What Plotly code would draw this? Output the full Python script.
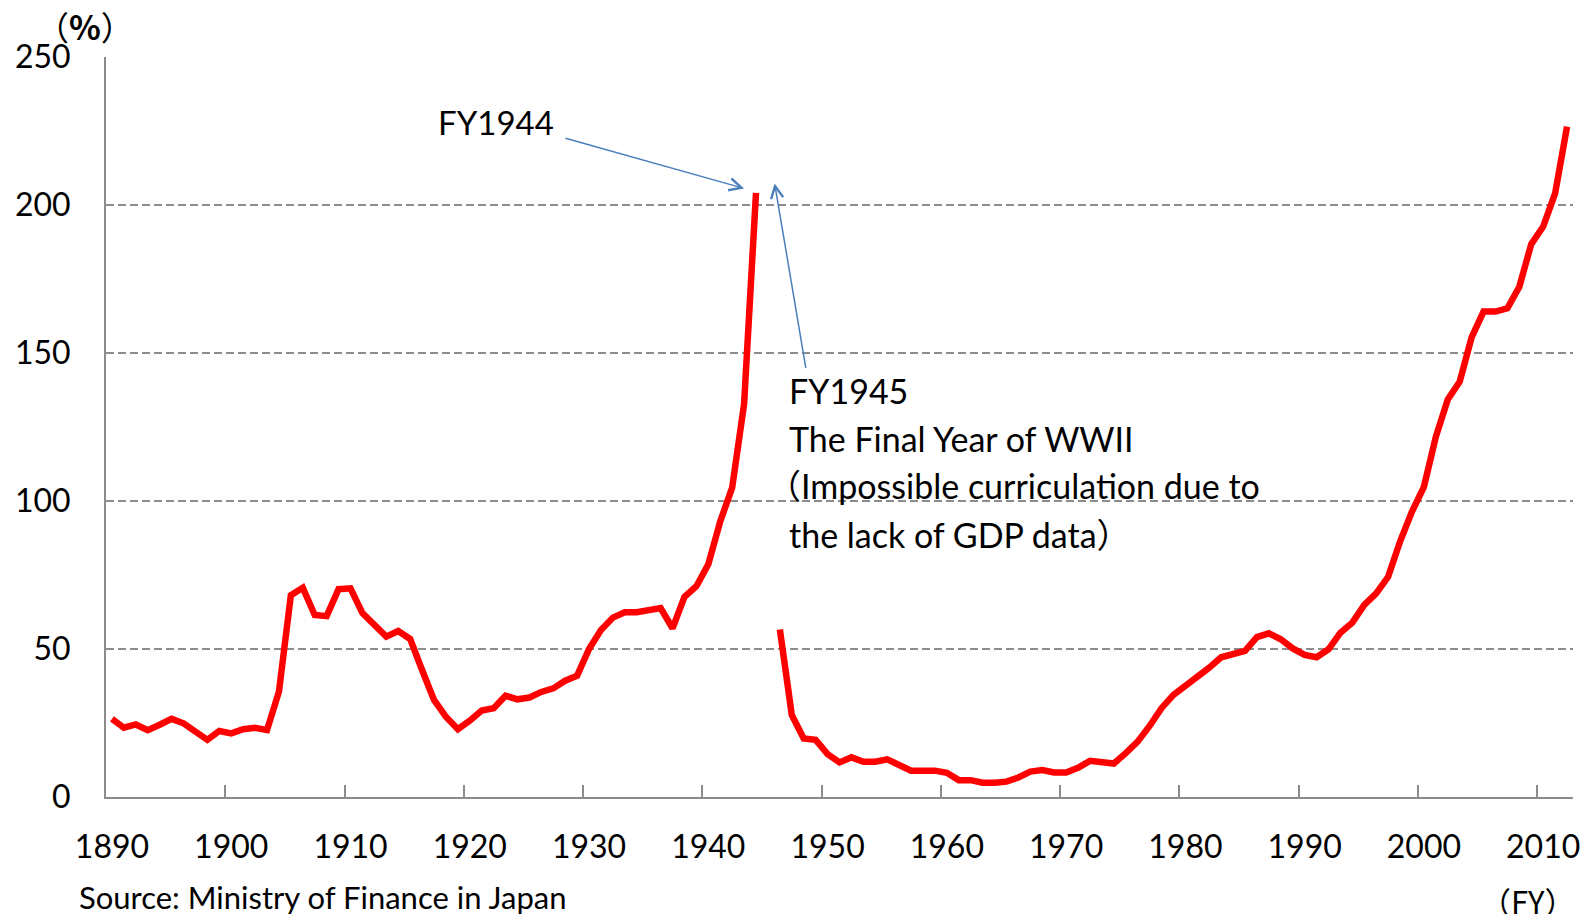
import plotly.graph_objects as go

# ---- data ----
years = list(range(1890, 2013))
debt_ratio = [
    # 1890s
    26.4, 23.4, 24.5, 22.6, 24.4, 26.4, 24.9, 22.1, 19.3, 22.3,
    # 1900s
    21.5, 22.9, 23.4, 22.6, 35.6, 68.2, 70.7, 61.5, 61.1, 70.2,
    # 1910s
    70.5, 62.1, 57.8, 54.2, 56.1, 53.4, 42.9, 32.8, 27.1, 22.9,
    # 1920s
    25.8, 29.2, 30.0, 34.2, 33.0, 33.6, 35.5, 36.7, 39.3, 41.0,
    # 1930s
    50.0, 56.4, 60.6, 62.4, 62.4, 63.2, 63.8, 57.0, 67.6, 71.2,
    # 1940s (1945 missing)
    78.6, 93.1, 104.5, 132.8, 204.1, None, 56.6, 27.7, 19.8, 19.3,
    # 1950s
    14.5, 11.7, 13.4, 11.9, 11.9, 12.7, 10.8, 8.9, 8.9, 8.9,
    # 1960s
    8.2, 5.7, 5.7, 4.8, 4.8, 5.2, 6.6, 8.6, 9.1, 8.3,
    # 1970s
    8.3, 9.9, 12.2, 11.5, 11.3, 14.8, 18.7, 24.0, 30.0, 34.5,
    # 1980s
    37.5, 40.4, 43.7, 47.2, 48.5, 49.4, 54.0, 55.3, 53.3, 50.2,
    # 1990s
    48.0, 47.2, 49.9, 55.5, 58.9, 64.9, 68.8, 74.4, 86.3, 96.4,
    # 2000s
    104.8, 121.7, 134.3, 140.3, 155.3, 164.0, 164.0, 165.1, 172.4, 186.8,
    # 2010s
    192.7, 203.9, 226.5,
]
assert len(debt_ratio) == len(years)

x_label_years = list(range(1890, 2011, 10))
y_ticks = [0, 50, 100, 150, 200, 250]

note_1944 = "FY1944"
note_1945_lines = [
    "FY1945",
    "The Final Year of WWII",
    "（Impossible curriculation due to",
    "the lack of GDP data）",
]
source_text = "Source: Ministry of Finance in Japan"

# ---- figure ----
FONT = "Lato, 'Noto Sans', 'Noto Sans CJK JP', sans-serif"
CJK = "Noto Sans CJK JP"
GRAY = "#8c8c8c"
ARROW = "#4a7ebb"

fig = go.Figure()
fig.add_trace(go.Scatter(
    x=years, y=debt_ratio, mode="lines",
    line=dict(color="#ff0000", width=6.5),
    connectgaps=False, showlegend=False, hoverinfo="x+y",
))
# invisible trace to hold the tick-mark axis
fig.add_trace(go.Scatter(x=[years[0]], y=[None], xaxis="x2", mode="lines",
                         showlegend=False, hoverinfo="skip"))

tick_bounds = [y - 0.5 for y in x_label_years[1:]]
xrange = [years[0] - 0.5, years[-1] + 0.5]

fig.update_layout(
    width=1588, height=914,
    margin=dict(l=106, r=15, t=57, b=117),
    paper_bgcolor="white", plot_bgcolor="white",
    font=dict(family=FONT, size=32, color="black"),
    xaxis=dict(
        range=xrange, tickvals=x_label_years,
        ticktext=[str(v) for v in x_label_years],
        ticks="", showgrid=False, zeroline=False,
        showline=True, linecolor=GRAY, linewidth=2,
        tickfont=dict(family=FONT, size=32, color="black"),
        ticklabelstandoff=21, automargin=False,
    ),
    xaxis2=dict(
        overlaying="x", matches="x", anchor="y", side="bottom",
        range=xrange, tickvals=tick_bounds,
        ticks="inside", ticklen=12, tickwidth=2, tickcolor=GRAY,
        showticklabels=False, showgrid=False, zeroline=False, showline=False,
    ),
    yaxis=dict(
        range=[0, 250], tickvals=y_ticks,
        ticks="", showgrid=True, gridcolor=GRAY, gridwidth=1.5,
        griddash="8px,4px", zeroline=False,
        showline=True, linecolor=GRAY, linewidth=2,
        tickfont=dict(family=FONT, size=32, color="black"),
        ticklabelstandoff=27, automargin=False,
    ),
)

annotations = []
ANN_FONT = dict(family=FONT, size=34, color="black")
# FY1944 label and arrow
annotations.append(dict(x=1922.2, y=228, xref="x", yref="y", text=note_1944,
                        showarrow=False, xanchor="center", yanchor="middle",
                        font=dict(family=FONT, size=33, color="black")))
annotations.append(dict(x=1943.0, y=205.6, xref="x", yref="y",
                        ax=1927.9, ay=222.7, axref="x", ayref="y",
                        text="", showarrow=True, arrowhead=5, arrowsize=1.6,
                        arrowwidth=1.5, arrowcolor=ARROW))
# FY1945 arrow
annotations.append(dict(x=1945.56, y=207.3, xref="x", yref="y",
                        ax=1948.2, ay=144.4, axref="x", ayref="y",
                        text="", showarrow=True, arrowhead=5, arrowsize=1.6,
                        arrowwidth=1.5, arrowcolor=ARROW))
# FY1945 text block
line_vals = [137.2, 121.1, 105.1, 88.6]
line_shift = [0, 0, -22, 0]
for txt, yv, sh in zip(note_1945_lines, line_vals, line_shift):
    annotations.append(dict(x=1946.6, y=yv, xref="x", yref="y", text=txt,
                            showarrow=False, xanchor="left", yanchor="middle",
                            xshift=sh, font=ANN_FONT))
# unit labels
annotations.append(dict(x=85, y=26, xref="paper", yref="paper", text="（<b>%</b>）",
                        showarrow=False, xanchor="center", yanchor="middle",
                        font=dict(family=CJK, size=33, color="black")))
annotations.append(dict(x=1528, y=900, xref="paper", yref="paper", text="（FY）",
                        showarrow=False, xanchor="center", yanchor="middle",
                        font=dict(family=CJK, size=31, color="black")))
annotations.append(dict(x=77, y=897, xref="paper", yref="paper", text=source_text,
                        showarrow=False, xanchor="left", yanchor="middle",
                        font=dict(family=FONT, size=31, color="black")))

# convert pixel-positioned paper annotations (pixels from top-left) to paper coords
plot_l, plot_r, plot_t, plot_b = 106, 1588 - 15, 57, 914 - 117
for a in annotations:
    if a.get("xref") == "paper":
        a["x"] = (a["x"] - plot_l) / (plot_r - plot_l)
        a["y"] = (plot_b - a["y"]) / (plot_b - plot_t)
fig.update_layout(annotations=annotations)

fig.write_html("out.html",
               config={"displayModeBar": False},
               post_script="document.body.style.margin='0px';"
                           "document.body.style.overflow='hidden';")
